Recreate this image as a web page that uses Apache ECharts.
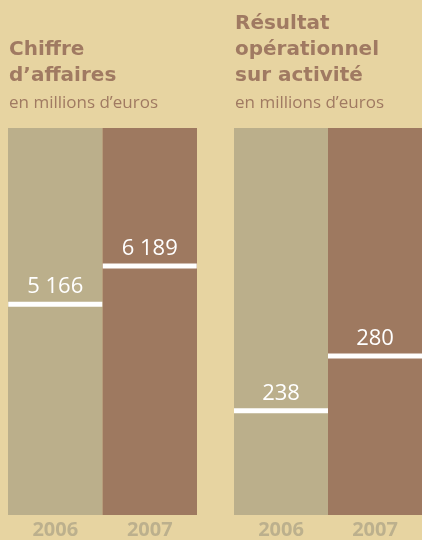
<!DOCTYPE html>
<html>
<head>
<meta charset="utf-8">
<script src="https://cdn.jsdelivr.net/npm/echarts@6/dist/echarts.min.js"></script>
<style>
  html, body { margin: 0; padding: 0; background: #e7d4a1; }
  #chart { width: 422px; height: 540px; }
</style>
</head>
<body>
<div id="chart"></div>
<script>
// données
const years = ['2006', '2007'];
const chiffre = [5166, 6189];     // chiffre d'affaires, M€
const resultat = [238, 280];      // résultat opérationnel sur activité, M€

const colBg = '#e7d4a1';
const col2006 = '#bbaf8b';
const col2007 = '#9e7960';
const titleCol = '#a07a62';

function fmt(v) {
    return String(v).replace(/\B(?=(\d{3})+(?!\d))/g, ' ');
}

function xAxis(gridIndex) {
    return {
        type: 'category', gridIndex: gridIndex, data: years,
        axisLine: { show: false }, axisTick: { show: false },
        splitLine: { show: false },
        splitArea: { show: true, interval: 0, areaStyle: { color: [col2006, col2007], opacity: 1 } },
        axisLabel: { color: '#bcb08d', fontSize: 20, fontWeight: 'bold', fontFamily: 'Open Sans', margin: 5 }
    };
}
function yAxis(gridIndex, min, max) {
    return { type: 'value', gridIndex: gridIndex, min: min, max: max, show: false, splitLine: { show: false } };
}
function lineSeries(idx, data) {
    return {
        type: 'scatter', xAxisIndex: idx, yAxisIndex: idx, data: data,
        symbol: 'rect', symbolSize: [94, 5],
        itemStyle: { color: '#ffffff', opacity: 1 },
        label: {
            show: true, position: 'top', distance: 4,
            color: '#ffffff', fontSize: 22, fontFamily: 'Open Sans',
            formatter: p => fmt(p.value)
        },
        emphasis: { disabled: true }, silent: true
    };
}

const titleStyle = { color: titleCol, fontSize: 20, fontWeight: 'bold', fontFamily: 'DejaVu Sans', lineHeight: 26 };
const subStyle = { color: titleCol, fontSize: 17, fontFamily: 'Open Sans' };

let myChart = echarts.init(document.getElementById('chart'));
myChart.setOption({
    backgroundColor: colBg,
    animation: false,
    title: [
        {
            text: 'Chiffre\nd’affaires', subtext: 'en millions d’euros',
            left: 4, top: 32, itemGap: 6,
            textStyle: titleStyle, subtextStyle: subStyle
        },
        {
            text: 'Résultat\nopérationnel\nsur activité', subtext: 'en millions d’euros',
            left: 230, top: 6, itemGap: 6,
            textStyle: titleStyle, subtextStyle: subStyle
        }
    ],
    grid: [
        { left: 8, top: 128, width: 189, height: 388 },
        { left: 234, top: 128, width: 188, height: 388 }
    ],
    xAxis: [xAxis(0), xAxis(1)],
    yAxis: [yAxis(0, -500, 9900), yAxis(1, 158, 455)],
    series: [lineSeries(0, chiffre), lineSeries(1, resultat)]
});
</script>
</body>
</html>
